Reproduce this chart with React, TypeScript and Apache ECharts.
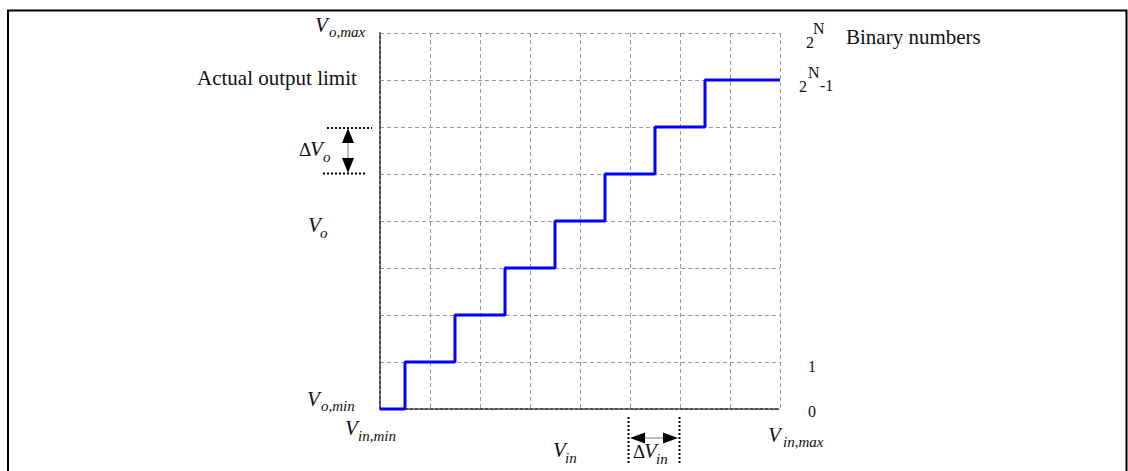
import React, { useEffect, useRef } from "react";
import * as echarts from "echarts";

// input code steps (x, in units of ΔVin) and output levels (y, in units of ΔVo)
const inputSteps = [0, 1, 2, 3, 4, 5, 6, 7, 8];
const outputLevels = [0, 1, 2, 3, 4, 5, 6, 7, 7];
const axisMax = 8;

const SERIF = "Liberation Serif";

function txt(x: number, base: number, text: string, size: number, italic = false, align = "left") {
  return {
    type: "text",
    x,
    y: base - size * 0.33,
    silent: true,
    style: {
      text,
      fontSize: size,
      fontFamily: SERIF,
      fontStyle: italic ? "italic" : "normal",
      fill: "#111",
      align,
      verticalAlign: "middle",
    },
  };
}

function line(x1: number, y1: number, x2: number, y2: number, stroke: string, lineWidth: number, lineDash?: number[]) {
  return {
    type: "line",
    silent: true,
    shape: { x1, y1, x2, y2 },
    style: { stroke, lineWidth, lineDash },
  };
}

function tri(points: number[][]) {
  return { type: "polygon", silent: true, shape: { points }, style: { fill: "#000" } };
}

export default function App() {
  const ref = useRef<HTMLDivElement>(null);
  useEffect(() => {
    if (!ref.current) return;
    const chart = echarts.init(ref.current, null, { renderer: "svg" });
    const gridLeft = 380, gridTop = 33, gridW = 400, gridH = 376;
    const border = { show: true, lineStyle: { color: "#444", width: 1.5, type: [3, 2] as any } };
    const split = { show: true, lineStyle: { color: "#999", width: 1, type: [4, 3] as any } };
    const hide = { axisLabel: { show: false }, axisTick: { show: false } };

    const graphics: any[] = [
      // outer frame
      {
        type: "polyline",
        silent: true,
        shape: { points: [[8, 480], [8, 10.5], [1126.5, 10.5], [1126.5, 480]] },
        style: { stroke: "#000", lineWidth: 2, fill: "none" },
      },
      // Vo,max
      txt(315, 32, "V", 21, true),
      txt(329, 37, "o,max", 15, true),
      txt(197, 85, "Actual output limit", 21),
      // ΔVo
      txt(299, 156, "Δ", 19),
      txt(310, 156, "V", 21, true),
      txt(323, 162, "o", 15, true),
      line(327, 128, 372, 128, "#000", 2, [2, 2]),
      line(323, 173.5, 367, 173.5, "#000", 2, [2, 2]),
      line(348, 140, 348, 161, "#777", 1),
      tri([[348, 128], [342, 143], [354, 143]]),
      tri([[348, 173], [342, 158], [354, 158]]),
      // Vo
      txt(308, 232, "V", 21, true),
      txt(320, 238, "o", 15, true),
      // Vo,min
      txt(307, 406, "V", 21, true),
      txt(321, 411, "o,min", 15, true),
      // Vin,min
      txt(345, 435, "V", 21, true),
      txt(358, 441, "in,min", 15, true),
      // Vin
      txt(553, 457, "V", 21, true),
      txt(565, 463, "in", 15, true),
      // ΔVin
      line(628.5, 417, 628.5, 463, "#000", 2, [2, 2]),
      line(679.5, 417, 679.5, 463, "#000", 2, [2, 2]),
      line(642, 438, 666, 438, "#777", 1),
      tri([[630, 438], [645, 432.5], [645, 443.5]]),
      tri([[678, 438], [663, 432.5], [663, 443.5]]),
      txt(633, 458, "Δ", 19),
      txt(644, 458, "V", 21, true),
      txt(656, 464, "in", 15, true),
      // Vin,max
      txt(768, 442, "V", 21, true),
      txt(783, 447, "in,max", 15, true),
      // right side binary numbers
      txt(806, 48, "2", 16),
      txt(813, 34, "N", 16),
      txt(846, 44, "Binary numbers", 21),
      txt(799, 92, "2", 16),
      txt(808, 78, "N", 16),
      txt(820, 91, "-1", 16),
      txt(808, 372, "1", 16),
      txt(808, 417, "0", 16),
    ];

    chart.setOption({
      animation: false,
      backgroundColor: "#fff",
      grid: { left: gridLeft, top: gridTop, width: gridW, height: gridH, show: false },
      xAxis: [
        { type: "value", min: 0, max: axisMax, interval: 1, position: "bottom", axisLine: border, splitLine: split, ...hide },
        { type: "value", min: 0, max: axisMax, interval: 1, position: "top", axisLine: border, splitLine: { show: false }, ...hide },
      ],
      yAxis: [
        { type: "value", min: 0, max: axisMax, interval: 1, position: "left", axisLine: border, splitLine: split, ...hide },
        { type: "value", min: 0, max: axisMax, interval: 1, position: "right", axisLine: border, splitLine: { show: false }, ...hide },
      ],
      series: [
        {
          type: "line",
          step: "middle",
          symbol: "none",
          clip: false,
          data: inputSteps.map((x, i) => [x, outputLevels[i]]),
          lineStyle: { color: "#0000ff", width: 3 },
          z: 5,
        },
      ],
      graphic: graphics,
    });
    return () => chart.dispose();
  }, []);
  return <div ref={ref} style={{ position: "absolute", left: 0, top: 0, width: 1128, height: 471 }} />;
}
